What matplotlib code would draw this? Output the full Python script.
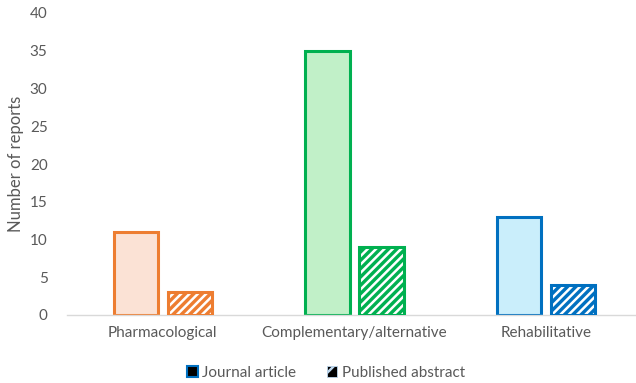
import numpy as np
import matplotlib
matplotlib.use("Agg")
import matplotlib.pyplot as plt
from matplotlib.patches import Patch

# report counts per intervention type
categories = ["Pharmacological", "Complementary/alternative", "Rehabilitative"]
journal = [11, 35, 13]
abstract = [3, 9, 4]
series_names = ["Journal article", "Published abstract"]
y_ticks = [0, 5, 10, 15, 20, 25, 30, 35, 40]

edge_colors = ["#ED7D31", "#00B050", "#0070C0"]
fill_colors = ["#FBE2D5", "#C1F0C8", "#CAEEFB"]

plt.rcParams["font.family"] = ["Lato", "DejaVu Sans"]
plt.rcParams["hatch.linewidth"] = 1.8

fig = plt.figure(figsize=(6.36, 3.83), dpi=100)
ax = fig.add_axes([67 / 636, 1 - 315 / 383, 575 / 636, (315 - 13) / 383])

x = np.arange(len(categories))
w = 0.23
off = 0.141
lw = 2.2

for i in range(len(categories)):
    # journal article: light fill, coloured outline
    ax.bar(x[i] - off, journal[i], w, color=fill_colors[i],
           edgecolor=edge_colors[i], linewidth=lw, zorder=2)
    # published abstract: solid colour with white diagonal stripes
    ax.bar(x[i] + off, abstract[i], w, color=edge_colors[i],
           edgecolor="none", linewidth=0, zorder=2)
    ax.bar(x[i] + off, abstract[i], w, color="none", hatch="////",
           edgecolor="white", linewidth=0, zorder=3)
    ax.bar(x[i] + off, abstract[i], w, color="none",
           edgecolor=edge_colors[i], linewidth=lw, zorder=4)

ax.set_xlim(-0.5, 2.5)
ax.set_ylim(0, 40)
ax.set_yticks(y_ticks)
ax.set_xticks(x)
ax.set_xticklabels(categories)
ax.tick_params(axis="both", length=0, labelsize=11, colors="#595959", pad=8)
ax.tick_params(axis="y", pad=14)
for s in ["top", "right", "left"]:
    ax.spines[s].set_visible(False)
ax.spines["bottom"].set_color("#D9D9D9")
ax.spines["bottom"].set_linewidth(1.0)
ax.set_ylabel("Number of reports", fontsize=12, color="#595959", labelpad=4)

handles = [
    Patch(facecolor="black", edgecolor="#0070C0", linewidth=1.5),
    Patch(facecolor="black", edgecolor="#BDD7EE", hatch="/", linewidth=0.6),
]
fig.legend(handles, series_names, loc="center", bbox_to_anchor=(326 / 636, 1 - 373 / 383),
           ncol=2, frameon=False, fontsize=11, labelcolor="#595959",
           handlelength=0.7, handleheight=0.7, handletextpad=0.3, columnspacing=2.0)

fig.savefig("out.png", dpi=100)
